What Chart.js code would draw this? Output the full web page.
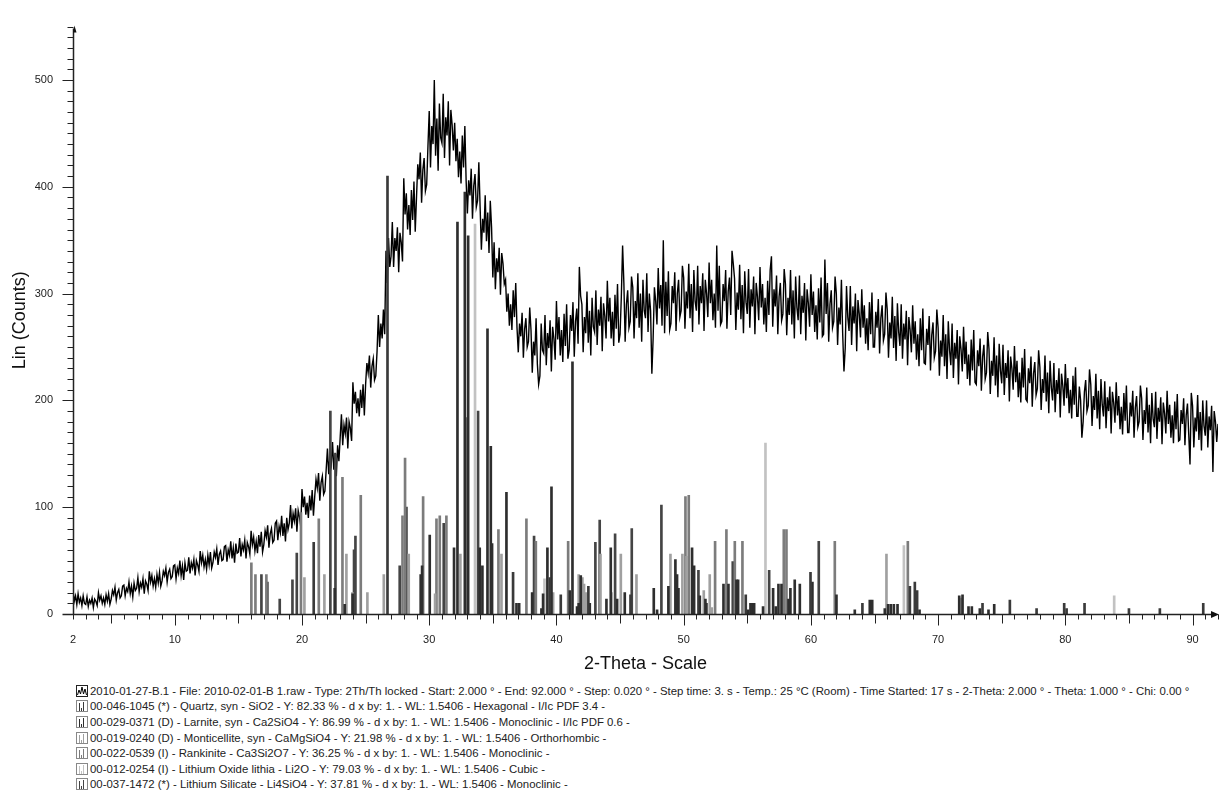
<!DOCTYPE html>
<html>
<head>
<meta charset="utf-8">
<title>XRD 2010-01-27-B.1</title>
<script src="https://cdn.jsdelivr.net/npm/chart.js@4.4.1/dist/chart.umd.min.js"></script>
<style>
  html, body { margin: 0; padding: 0; background: #fff; }
  #wrap { position: relative; width: 1220px; height: 794px; overflow: hidden; }
  #chart { position: absolute; left: 0; top: 0; }
  #legend { position: absolute; left: 76px; top: 683px; font-family: 'Liberation Sans', Arial, sans-serif; font-size: 11.4px; color: #222; }
  .row { height: 15.6px; white-space: nowrap; display: flex; align-items: center; }
  .row svg { margin-right: 2px; flex: none; }
</style>
</head>
<body>
<div id="wrap">
  <canvas id="chart" width="1220" height="680"></canvas>
  <div id="legend"></div>
</div>
<script>
const scanStart = 2.0;
const scanStep = 0.1;
const scanCounts = [
  22, 12, 17, 9, 19, 11, 15, 8, 17, 10,
  9, 16, 7, 13, 10, 15, 6, 14, 12, 8,
  20, 13, 17, 10, 15, 9, 18, 12, 19, 9,
  14, 22, 18, 25, 13, 20, 23, 15, 17, 26,
  27, 17, 24, 21, 30, 19, 26, 16, 29, 22,
  24, 34, 21, 29, 25, 33, 19, 31, 28, 22,
  40, 30, 36, 26, 33, 25, 37, 29, 39, 26,
  31, 40, 36, 43, 30, 39, 42, 33, 35, 45,
  46, 33, 43, 38, 50, 36, 45, 32, 48, 40,
  41, 53, 38, 48, 43, 51, 36, 50, 46, 40,
  59, 48, 55, 44, 51, 42, 55, 46, 58, 43,
  48, 58, 53, 61, 46, 56, 59, 50, 51, 63,
  64, 49, 60, 55, 68, 52, 62, 48, 66, 57,
  58, 71, 54, 65, 60, 69, 52, 67, 63, 56,
  78, 65, 72, 59, 68, 57, 74, 63, 77, 58,
  65, 78, 72, 83, 62, 75, 80, 67, 69, 85,
  87, 69, 82, 76, 92, 73, 85, 68, 90, 79,
  85, 102, 80, 94, 87, 99, 77, 97, 91, 82,
  117, 100, 110, 93, 104, 90, 111, 97, 116, 92,
  110, 126, 118, 132, 106, 123, 129, 112, 115, 135,
  155, 131, 148, 140, 161, 135, 151, 129, 158, 143,
  165, 187, 158, 177, 169, 184, 155, 180, 174, 162,
  217, 197, 208, 188, 202, 185, 210, 193, 215, 186,
  215, 235, 226, 242, 212, 232, 239, 219, 223, 246,
  280, 250, 272, 258, 285, 262, 340, 310, 352, 325,
  335, 367, 325, 352, 340, 362, 320, 357, 348, 330,
  408, 374, 394, 360, 383, 355, 397, 369, 405, 358,
  390, 421, 407, 432, 385, 416, 427, 396, 402, 438,
  471, 418, 457, 440, 500, 429, 464, 415, 478, 446,
  441, 487, 427, 465, 448, 480, 420, 472, 458, 434,
  460, 424, 445, 409, 433, 403, 448, 418, 457, 406,
  375, 406, 392, 417, 370, 401, 412, 381, 387, 423,
  381, 341, 370, 357, 392, 349, 376, 338, 387, 362,
  315, 348, 304, 333, 320, 343, 299, 338, 328, 309,
  313, 283, 300, 270, 290, 266, 303, 278, 310, 268,
  245, 272, 260, 282, 240, 267, 277, 250, 255, 287,
  266, 226, 255, 242, 277, 234, 215, 223, 272, 247,
  244, 280, 233, 263, 249, 275, 227, 269, 258, 238,
  293, 257, 278, 242, 266, 236, 281, 251, 290, 239,
  247, 280, 265, 292, 241, 274, 286, 253, 325, 298,
  290, 245, 278, 263, 302, 254, 284, 242, 296, 269,
  264, 303, 252, 285, 270, 297, 246, 291, 279, 258,
  312, 274, 296, 258, 283, 251, 299, 267, 309, 254,
  262, 297, 345, 310, 255, 290, 303, 268, 274, 316,
  306, 258, 293, 277, 319, 268, 300, 255, 313, 284,
  277, 319, 264, 300, 284, 225, 258, 306, 293, 271,
  324, 286, 308, 270, 350, 263, 311, 279, 321, 266,
  272, 307, 291, 320, 265, 300, 313, 278, 284, 326,
  315, 267, 302, 286, 328, 277, 309, 264, 322, 293,
  284, 326, 271, 307, 291, 319, 265, 313, 300, 278,
  329, 291, 313, 275, 300, 268, 345, 284, 326, 271,
  274, 309, 293, 322, 267, 302, 315, 280, 340, 328,
  314, 266, 301, 285, 327, 276, 308, 263, 321, 292,
  281, 323, 268, 304, 288, 316, 262, 310, 297, 275,
  325, 287, 309, 271, 296, 264, 312, 280, 322, 335,
  269, 304, 288, 317, 262, 297, 310, 275, 281, 323,
  309, 261, 296, 280, 322, 271, 303, 258, 316, 287,
  275, 317, 262, 298, 282, 310, 256, 304, 291, 269,
  318, 280, 302, 264, 289, 257, 305, 273, 315, 260,
  262, 332, 281, 310, 255, 290, 303, 268, 274, 316,
  300, 252, 287, 271, 313, 262, 227, 249, 307, 278,
  265, 307, 252, 288, 272, 300, 246, 294, 281, 259,
  304, 268, 289, 253, 277, 247, 292, 262, 301, 250,
  250, 283, 268, 295, 244, 277, 289, 256, 262, 301,
  285, 240, 273, 258, 297, 249, 279, 237, 291, 264,
  251, 290, 239, 272, 257, 284, 233, 278, 266, 245,
  289, 253, 274, 238, 262, 232, 277, 247, 286, 235,
  234, 267, 252, 279, 228, 261, 273, 240, 246, 285,
  268, 223, 256, 241, 280, 232, 262, 220, 274, 247,
  233, 272, 221, 254, 239, 266, 215, 260, 248, 227,
  269, 234, 255, 220, 243, 214, 257, 228, 266, 217,
  215, 247, 232, 258, 209, 241, 252, 220, 226, 264,
  248, 206, 237, 223, 259, 214, 242, 203, 253, 228,
  216, 252, 205, 235, 221, 247, 199, 241, 230, 210,
  251, 217, 237, 203, 226, 198, 240, 212, 248, 201,
  199, 230, 216, 241, 194, 225, 236, 205, 211, 247,
  231, 191, 220, 207, 242, 199, 226, 188, 237, 212,
  200, 235, 189, 219, 206, 230, 184, 225, 214, 195,
  234, 202, 221, 188, 210, 183, 223, 196, 231, 185,
  185, 213, 200, 165, 180, 208, 219, 190, 195, 229,
  215, 176, 204, 191, 225, 183, 209, 173, 220, 196,
  185, 218, 174, 203, 190, 213, 169, 208, 198, 179,
  217, 186, 204, 173, 194, 168, 207, 181, 214, 170,
  170, 198, 185, 209, 165, 193, 204, 175, 180, 214,
  202, 163, 191, 178, 212, 170, 196, 160, 207, 183,
  175, 208, 164, 193, 180, 203, 159, 198, 188, 169,
  209, 178, 196, 165, 186, 160, 199, 173, 206, 162,
  163, 191, 178, 202, 158, 186, 197, 168, 140, 207,
  195, 156, 184, 171, 205, 163, 189, 153, 200, 176,
  167, 200, 156, 185, 172, 195, 133, 190, 180, 161,
  178
];

// reference patterns: [2-theta, counts]
const quartzPeaks = [[20.92, 67], [26.72, 410], [36.59, 39], [39.48, 34], [40.34, 18], [42.51, 26], [45.82, 18],
  [54.88, 18], [59.97, 39], [64.05, 10], [67.78, 26], [68.17, 30], [68.35, 22], [73.49, 10], [75.64, 13],
  [77.74, 5], [79.91, 10], [80.10, 5], [81.51, 10], [85.00, 5], [87.43, 5], [90.84, 10]];
const larnitePeaks = [[22.57, 24], [23.36, 9], [23.98, 19], [29.33, 37], [29.44, 45], [30.04, 74], [31.95, 62],
  [32.22, 367], [32.80, 395], [33.06, 354], [33.97, 62], [34.18, 45], [34.58, 267], [34.84, 157], [34.94, 66],
  [36.07, 114], [36.86, 10], [37.07, 10], [38.09, 20], [38.82, 5], [38.95, 19], [39.29, 62], [39.61, 119],
  [41.05, 22], [41.26, 236], [41.62, 7], [41.75, 10], [41.91, 36], [42.62, 10], [43.93, 14], [44.27, 62],
  [44.77, 14], [45.37, 20], [47.65, 24], [47.91, 4], [48.80, 26], [49.35, 51], [49.48, 37], [49.59, 24],
  [50.66, 62], [50.82, 45], [51.27, 17], [51.71, 14], [51.79, 10], [53.13, 28], [53.52, 28], [54.15, 32],
  [54.28, 32], [55.07, 4], [55.25, 10], [55.40, 10], [55.54, 10], [56.24, 7], [57.03, 24], [57.24, 7],
  [57.45, 28], [57.69, 28], [58.24, 14], [58.39, 24], [58.73, 32], [59.13, 28], [60.12, 30], [62.01, 18],
  [63.45, 4], [64.63, 13], [64.82, 13], [65.81, 5], [66.07, 9], [66.28, 9], [66.52, 9], [66.81, 9],
  [68.54, 4], [71.66, 17], [71.92, 18], [72.39, 7], [72.65, 7], [73.28, 5], [73.96, 4], [74.41, 9]];
const monticellitePeaks = [[20.19, 34], [21.76, 37], [23.49, 56], [23.96, 20], [25.14, 20], [26.43, 37],
  [28.39, 56], [30.46, 19], [32.45, 56], [35.68, 56], [39.74, 20], [41.75, 37], [42.04, 34], [42.17, 28],
  [42.30, 20], [43.46, 56], [44.32, 20], [45.06, 56], [46.29, 37], [48.96, 56], [49.90, 56], [50.22, 54],
  [51.58, 22], [52.05, 37], [52.21, 6], [65.94, 56], [71.84, 15]];
const rankinitePeaks = [[16.02, 48], [16.34, 37], [17.20, 37], [19.92, 95], [21.32, 89], [23.18, 128],
  [24.62, 111], [27.90, 92], [28.10, 146], [29.52, 110], [30.57, 89], [30.83, 92], [31.35, 92], [32.87, 184],
  [35.44, 79], [37.64, 89], [38.38, 68], [40.92, 68], [50.14, 110], [50.40, 111], [52.47, 68], [53.36, 79],
  [54.02, 68], [54.62, 68], [57.87, 79], [58.08, 79], [61.88, 68], [67.62, 68]];
const li2oPeaks = [[33.60, 365], [39.06, 33], [56.43, 160], [67.31, 64], [83.84, 17]];
const li4sio4Peaks = [[16.81, 37], [17.28, 30], [18.25, 14], [19.25, 32], [19.59, 57], [22.23, 190],
  [22.63, 150], [24.09, 60], [24.20, 73], [27.68, 45], [28.21, 100], [31.14, 85], [33.84, 190], [38.24, 73],
  [43.06, 67], [43.40, 88], [44.61, 75], [45.92, 80], [48.25, 102], [51.16, 41], [53.86, 49], [56.72, 41],
  [60.62, 68]];

const xTickLabels = [2, 10, 20, 30, 40, 50, 60, 70, 80, 90];
const yTickLabels = [0, 100, 200, 300, 400, 500];

const scanLabel = '2010-01-27-B.1 - File: 2010-02-01-B 1.raw - Type: 2Th/Th locked - Start: 2.000 ° - End: 92.000 ° - Step: 0.020 ° - Step time: 3. s - Temp.: 25 °C (Room) - Time Started: 17 s - 2-Theta: 2.000 ° - Theta: 1.000 ° - Chi: 0.00 °';
const phases = [
  { label: '00-046-1045 (*) - Quartz, syn - SiO2 - Y: 82.33 % - d x by: 1. - WL: 1.5406 - Hexagonal - I/Ic PDF 3.4 -', peaks: quartzPeaks, color: '#3a3a3a' },
  { label: '00-029-0371 (D) - Larnite, syn - Ca2SiO4 - Y: 86.99 % - d x by: 1. - WL: 1.5406 - Monoclinic - I/Ic PDF 0.6 -', peaks: larnitePeaks, color: '#2e2e2e' },
  { label: '00-019-0240 (D) - Monticellite, syn - CaMgSiO4 - Y: 21.98 % - d x by: 1. - WL: 1.5406 - Orthorhombic -', peaks: monticellitePeaks, color: '#a0a0a0' },
  { label: '00-022-0539 (I) - Rankinite - Ca3Si2O7 - Y: 36.25 % - d x by: 1. - WL: 1.5406 - Monoclinic -', peaks: rankinitePeaks, color: '#7c7c7c' },
  { label: '00-012-0254 (I) - Lithium Oxide lithia - Li2O - Y: 79.03 % - d x by: 1. - WL: 1.5406 - Cubic -', peaks: li2oPeaks, color: '#c2c2c2' },
  { label: '00-037-1472 (*) - Lithium Silicate - Li4SiO4 - Y: 37.81 % - d x by: 1. - WL: 1.5406 - Monoclinic -', peaks: li4sio4Peaks, color: '#444444' }
];

const FONT = "'Liberation Sans', Arial, sans-serif";

const scanPoints = scanCounts.map((c, i) => ({ x: +(scanStart + i * scanStep).toFixed(2), y: c }));

const datasets = [{
  type: 'line',
  label: scanLabel,
  data: scanPoints,
  borderColor: '#000',
  borderWidth: 1.4,
  pointRadius: 0,
  tension: 0,
  order: 2
}];
phases.forEach(p => {
  datasets.push({
    type: 'bar',
    label: p.label,
    data: p.peaks.map(([x, y]) => ({ x: x, y: y })),
    backgroundColor: p.color,
    borderWidth: 0,
    barThickness: 2,
    grouped: false,
    order: 1
  });
});

// axis lines, arrows and the tick marks of the diffractometer plot
const axesPlugin = {
  id: 'xrdAxes',
  afterDatasetsDraw(chart) {
    const { ctx, scales: { x, y } } = chart;
    const left = Math.round(x.getPixelForValue(2)) + 0.5;
    const right = x.getPixelForValue(92);
    const base = Math.round(y.getPixelForValue(0)) + 0.5;
    const top = y.getPixelForValue(550);
    ctx.save();
    ctx.strokeStyle = '#222';
    ctx.fillStyle = '#111';
    ctx.lineWidth = 1.5;
    ctx.beginPath();
    ctx.moveTo(left - 11, base); ctx.lineTo(right - 2, base);
    ctx.moveTo(left, base); ctx.lineTo(left, top + 2);
    ctx.stroke();
    ctx.lineWidth = 1;
    ctx.beginPath();
    for (let v = 2; v <= 92; v++) {
      const px = Math.round(x.getPixelForValue(v)) + 0.5;
      const len = v % 10 === 0 ? 11 : (v % 5 === 0 ? 9 : 5);
      ctx.moveTo(px, base); ctx.lineTo(px, base + len);
    }
    for (let v = 10; v <= 550; v += 10) {
      const py = Math.round(y.getPixelForValue(v)) + 0.5;
      const len = v % 100 === 0 ? 11 : 6;
      ctx.moveTo(left, py); ctx.lineTo(left - len, py);
    }
    ctx.stroke();
    // arrow heads
    ctx.beginPath();
    ctx.moveTo(right + 1, base); ctx.lineTo(right - 7, base - 3.5); ctx.lineTo(right - 7, base + 3.5); ctx.closePath();
    ctx.fill();
    ctx.beginPath();
    ctx.moveTo(left + 1, top - 1); ctx.lineTo(left + 3, top + 6); ctx.lineTo(left - 0.5, top + 6); ctx.closePath();
    ctx.fill();
    ctx.restore();
  }
};

new Chart(document.getElementById('chart'), {
  type: 'line',
  data: { datasets: datasets },
  options: {
    responsive: false,
    animation: false,
    events: [],
    layout: { padding: { top: 14, right: 2, left: 0, bottom: 0 } },
    plugins: { legend: { display: false }, tooltip: { enabled: false } },
    scales: {
      x: {
        type: 'linear',
        min: 2,
        max: 92,
        offset: false,
        grid: { display: false, drawTicks: false, offset: false },
        border: { display: false },
        afterBuildTicks: s => { s.ticks = xTickLabels.map(v => ({ value: v })); },
        afterFit: s => { s.height = 66; },
        ticks: { padding: 19, autoSkip: false, maxRotation: 0, color: '#222', font: { family: FONT, size: 11 } },
        title: { display: true, text: '2-Theta - Scale', color: '#111', font: { family: FONT, size: 18 }, padding: { top: 0, bottom: 5 } }
      },
      y: {
        type: 'linear',
        min: 0,
        max: 550,
        grid: { display: false, drawTicks: false },
        border: { display: false },
        afterBuildTicks: s => { s.ticks = yTickLabels.map(v => ({ value: v })); },
        afterFit: s => { s.width = 73; },
        ticks: { padding: 20, color: '#222', font: { family: FONT, size: 11 } },
        title: { display: true, text: 'Lin (Counts)', color: '#111', font: { family: FONT, size: 18 }, padding: { top: 9, bottom: 0 } }
      }
    }
  },
  plugins: [axesPlugin]
});

// legend block under the plot
const legend = document.getElementById('legend');
function addRow(iconSvg, text) {
  const row = document.createElement('div');
  row.className = 'row';
  row.innerHTML = iconSvg;
  const span = document.createElement('span');
  span.textContent = text;
  row.appendChild(span);
  legend.appendChild(row);
}
addRow('<svg width="12" height="12"><rect x="0.5" y="0.5" width="11" height="11" fill="none" stroke="#222"/>' +
  '<polyline points="1.5,10 3,5 4.5,9 6,2 7.5,9 9,4 10.5,10" fill="none" stroke="#000" stroke-width="1"/></svg>', scanLabel);
phases.forEach(p => {
  addRow('<svg width="12" height="12"><rect x="0.5" y="0.5" width="11" height="11" fill="none" stroke="#888"/>' +
    '<line x1="3.5" y1="11" x2="3.5" y2="3" stroke="' + p.color + '"/>' +
    '<line x1="5.5" y1="11" x2="5.5" y2="8" stroke="' + p.color + '"/>' +
    '<line x1="7.5" y1="11" x2="7.5" y2="2" stroke="' + p.color + '"/></svg>', p.label);
});
</script>
</body>
</html>
